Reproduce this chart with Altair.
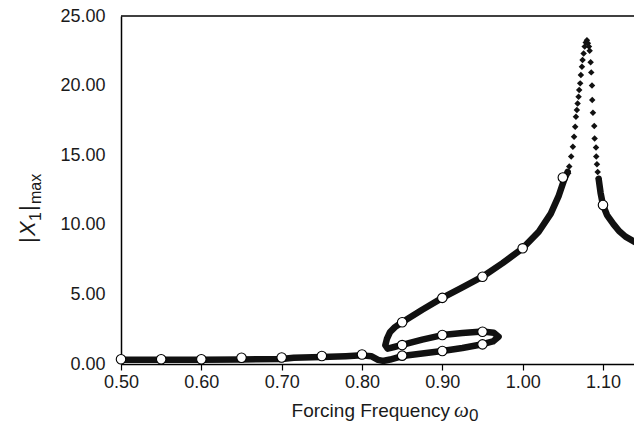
import altair as alt
import pandas as pd

# ---- data ----
# open-circle markers (every 0.05 in forcing frequency)
circ_x = [0.50, 0.55, 0.60, 0.65, 0.70, 0.75, 0.80, 0.85, 0.90, 0.95,
          0.95, 0.90, 0.85, 0.85, 0.90, 0.95, 1.00, 1.05, 1.10, 1.15]
circ_y = [0.34, 0.34, 0.34, 0.45, 0.47, 0.57, 0.68, 0.60, 0.93, 1.41,
          2.32, 2.08, 1.36, 3.00, 4.75, 6.27, 8.31, 13.40, 11.42, 8.45]

# densely packed response points (drawn as a thick trace)
path_a_x = [0.500, 0.550, 0.600, 0.650, 0.700, 0.715, 0.750, 0.780, 0.800, 0.812,
            0.820, 0.826, 0.835, 0.850, 0.875, 0.900, 0.925, 0.950, 0.963, 0.970,
            0.964, 0.950, 0.925, 0.900, 0.875, 0.850, 0.840, 0.832, 0.829, 0.831,
            0.835, 0.841, 0.850, 0.875, 0.900, 0.925, 0.950, 0.975, 1.000, 1.020,
            1.035, 1.045, 1.052, 1.056]
path_a_y = [0.30, 0.30, 0.30, 0.33, 0.36, 0.45, 0.50, 0.56, 0.62, 0.55,
            0.30, 0.22, 0.32, 0.57, 0.76, 0.93, 1.15, 1.42, 1.62, 1.96,
            2.25, 2.33, 2.22, 2.08, 1.75, 1.37, 1.22, 1.10, 1.35, 1.80,
            2.30, 2.65, 3.00, 3.90, 4.75, 5.50, 6.27, 7.25, 8.31, 9.50,
            10.80, 12.10, 13.30, 13.80]
path_b_x = [1.0946, 1.097, 1.100, 1.105, 1.113, 1.120, 1.128, 1.140, 1.150, 1.160]
path_b_y = [13.30, 12.30, 11.42, 10.70, 10.05, 9.55, 9.15, 8.75, 8.45, 8.20]

# individually visible points around the resonance peak
dot_x = [1.0567, 1.0580, 1.0604, 1.0625, 1.0640, 1.0654, 1.0663, 1.0675, 1.0684,
         1.0696, 1.0704, 1.0716, 1.0725, 1.0738, 1.0746, 1.0759, 1.0772, 1.0785,
         1.0800, 1.0812, 1.0825, 1.0834, 1.0846, 1.0854, 1.0863, 1.0866, 1.0875,
         1.0891, 1.0896, 1.0913, 1.0916, 1.0925, 1.0934, 1.0946]
dot_y = [13.70, 14.18, 14.90, 15.61, 16.33, 17.05, 17.77, 18.25, 18.72,
         19.20, 19.68, 20.16, 20.76, 21.36, 21.84, 22.30, 22.80, 23.10,
         23.25, 23.05, 22.80, 22.50, 21.67, 20.95, 20.00, 18.97, 18.05,
         17.10, 16.20, 15.55, 14.90, 14.35, 13.80, 13.30]

x_ticks = [0.50, 0.60, 0.70, 0.80, 0.90, 1.00, 1.10]
y_ticks = [0, 5, 10, 15, 20, 25]

W, H = 513, 348
FONT = "Liberation Sans"

path_df = pd.DataFrame({
    "w": path_a_x + path_b_x,
    "v": path_a_y + path_b_y,
    "seg": ["a"] * len(path_a_x) + ["b"] * len(path_b_x),
    "i": list(range(len(path_a_x))) + list(range(len(path_b_x))),
})
dot_df = pd.DataFrame({"w": dot_x, "v": dot_y})
circ_df = pd.DataFrame({"w": circ_x, "v": circ_y})

xs = alt.Scale(domain=[0.5, 1.1386], nice=False, zero=False)
ys = alt.Scale(domain=[0, 25], nice=False)

xax = alt.Axis(values=x_ticks, format=".2f", title=None, grid=False,
               labelFontSize=18, labelFont=FONT, labelColor="#1a1a1a",
               labelFlush=False, labelOverlap=False,
               tickSize=6, tickColor="black", tickWidth=1.2,
               domainColor="black", domainWidth=1.5, labelPadding=3)
yax = alt.Axis(values=y_ticks, format=".2f", title=None, grid=False,
               labelFontSize=18, labelFont=FONT, labelColor="#1a1a1a",
               labelFlush=False, labelOverlap=False, labelBound=False,
               ticks=False, domainColor="black", domainWidth=1.5,
               labelPadding=16)

line = alt.Chart(path_df).mark_line(
    color="#111", strokeWidth=6.5, strokeJoin="round", strokeCap="round"
).encode(
    x=alt.X("w:Q", scale=xs, axis=xax),
    y=alt.Y("v:Q", scale=ys, axis=yax),
    detail="seg:N",
    order="i:Q",
)

dots = alt.Chart(dot_df).mark_point(
    shape="diamond", filled=True, color="#111", size=42, opacity=1
).encode(x=alt.X("w:Q", scale=xs), y=alt.Y("v:Q", scale=ys))

circles = alt.Chart(circ_df).mark_point(
    shape="circle", filled=True, fill="white", stroke="black",
    strokeWidth=1.1, size=90, opacity=1
).encode(x=alt.X("w:Q", scale=xs), y=alt.Y("v:Q", scale=ys))

one = pd.DataFrame({"k": [0]})
top = alt.Chart(one).mark_rule(color="black", strokeWidth=1.5).encode(
    y=alt.value(0), x=alt.value(0), x2=alt.value(W)
)

def txt(s, x, y, size, font=FONT, style="normal", angle=0, align="left"):
    return alt.Chart(one).mark_text(
        text=s, font=font, fontSize=size, fontStyle=style, angle=angle,
        align=align, baseline="alphabetic", color="#1a1a1a"
    ).encode(x=alt.value(x), y=alt.value(y))

xtitle = [
    txt("Forcing Frequency", 329, 401, 19, align="right"),
    txt("ω", 333, 401, 21, font="Liberation Serif", style="italic"),
    txt("0", 348, 405, 17),
]
ytitle = [
    txt("|", -86, 227, 22, angle=270),
    txt("X", -86, 220, 22, style="italic", angle=270),
    txt("1", -80, 205, 16, angle=270),
    txt("|", -86, 195, 22, angle=270),
    txt("max", -80, 188, 16, angle=270),
]

chart = alt.layer(line, dots, circles, top, *xtitle, *ytitle).properties(
    width=W, height=H,
    autosize=alt.AutoSizeParams(type="none"),
    padding={"left": 113, "top": 8, "right": 0, "bottom": 61},
).configure_view(stroke=None)

chart.save("out.html", embed_options={"renderer": "svg", "actions": False})
